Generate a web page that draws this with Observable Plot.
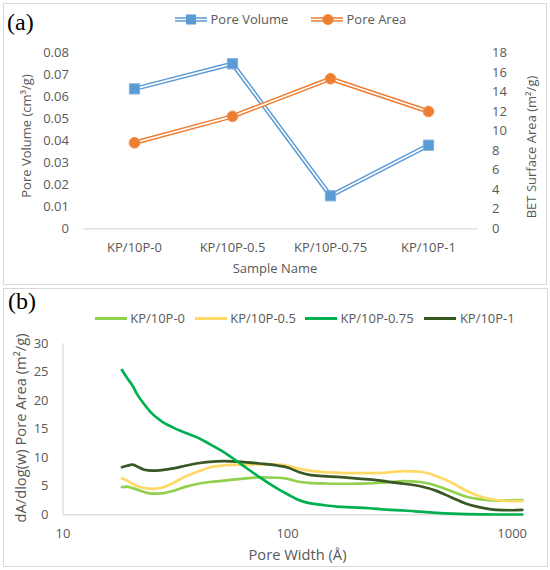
<!DOCTYPE html>
<html>
<head>
<meta charset="utf-8">
<script src="https://cdn.jsdelivr.net/npm/d3@7"></script>
<script src="https://cdn.jsdelivr.net/npm/@observablehq/plot@0.6"></script>
<style>
  body { margin: 0; background: #fff; font-family: "Open Sans", sans-serif; color: #595959; }
  #wrap { position: relative; width: 550px; height: 570px; overflow: hidden; background: #fff; }
  .abs { position: absolute; white-space: nowrap; }
  .panel { position: absolute; border: 1px solid #d9d9d9; box-sizing: border-box; background: transparent; pointer-events: none; }
  .tag { font-family: "Liberation Serif", "DejaVu Serif", serif; font-size: 24px; line-height: 24px; color: #000; }
  .title { font-size: 13px; line-height: 13px; color: #595959; transform: translate(-50%, -50%); }
  .vtitle { font-size: 13px; line-height: 13px; color: #595959; transform: translate(-50%, -50%) rotate(-90deg); }
  .big { font-size: 14.7px; line-height: 15px; }
  .item { position: absolute; display: flex; align-items: center; font-size: 13px; line-height: 13px; color: #595959; transform: translateY(-50%); }
  .item svg { display: block; margin-right: 3.5px; }
</style>
</head>
<body>
<div id="wrap">
  <div id="plotA" class="abs" style="left:0;top:0"></div>
  <div id="plotB" class="abs" style="left:0;top:285px"></div>

  <div class="abs tag" style="left:7px;top:9.6px">(a)</div>
  <div class="abs tag" style="left:8px;top:289px">(b)</div>

  <div class="abs title" style="left:275px;top:268px">Sample Name</div>
  <div class="abs vtitle" style="left:26px;top:136px">Pore Volume (cm³/g)</div>
  <div class="abs vtitle" style="left:530.5px;top:146.5px">BET Surface Area (m²/g)</div>

  <div class="abs title big" style="left:297.5px;top:554px">Pore Width (Å)</div>
  <div class="abs vtitle big" style="left:19.5px;top:427.5px">dA/dlog(w) Pore Area (m²/g)</div>

  <div class="panel" style="left:3px;top:3px;width:544px;height:282px"></div>
  <div class="panel" style="left:3px;top:288px;width:545px;height:279px"></div>
</div>
<script>
// ---------- Panel (a) data ----------
const samples = ["KP/10P-0", "KP/10P-0.5", "KP/10P-0.75", "KP/10P-1"];
const poreVolume = [0.0636, 0.075, 0.015, 0.038];   // cm³/g (left axis)
const poreArea = [8.8, 11.5, 15.35, 12.0];           // m²/g (right axis)
const volumeTicks = [0, 0.01, 0.02, 0.03, 0.04, 0.05, 0.06, 0.07, 0.08];
const areaTicks = [0, 2, 4, 6, 8, 10, 12, 14, 16, 18];

// ---------- Panel (b) data ----------
const poreWidth = [18.3, 19.3, 20.3, 21.5, 23, 25, 27.5, 31, 35, 40, 45, 52, 62, 75, 90, 100, 112, 125, 145, 165, 195, 230, 275, 330, 390, 460, 540, 620, 720, 850, 1000, 1110];
const kp0   = [4.85, 4.95, 4.7, 4.4, 4.0, 3.7, 3.75, 4.2, 4.9, 5.45, 5.75, 6.0, 6.3, 6.55, 6.5, 6.3, 5.8, 5.6, 5.5, 5.45, 5.45, 5.5, 5.7, 5.9, 5.75, 5.1, 4.1, 3.2, 2.7, 2.5, 2.55, 2.6];
const kp05  = [6.4, 6.0, 5.5, 5.0, 4.7, 4.55, 4.75, 5.6, 6.7, 7.6, 8.3, 8.65, 8.8, 8.85, 8.8, 8.6, 8.1, 7.75, 7.5, 7.4, 7.3, 7.3, 7.4, 7.65, 7.55, 6.8, 5.6, 4.3, 3.2, 2.6, 2.4, 2.4];
const kp075 = [25.4, 24.0, 22.8, 21.0, 19.4, 17.7, 16.4, 15.3, 14.4, 13.5, 12.4, 11.0, 8.9, 6.6, 4.6, 3.6, 2.6, 2.05, 1.7, 1.45, 1.3, 1.15, 0.9, 0.75, 0.55, 0.35, 0.2, 0.12, 0.08, 0.05, 0.05, 0.05];
const kp1   = [8.35, 8.6, 8.8, 8.45, 7.9, 7.75, 7.85, 8.15, 8.6, 9.05, 9.3, 9.4, 9.3, 9.0, 8.65, 8.3, 7.5, 7.0, 6.8, 6.65, 6.45, 6.2, 5.85, 5.45, 5.0, 4.2, 3.0, 2.0, 1.3, 0.85, 0.8, 0.85];
const seriesNames = ["KP/10P-0", "KP/10P-0.5", "KP/10P-0.75", "KP/10P-1"];
const seriesColors = ["#92D050", "#FFD966", "#00B050", "#385723"];
const widthTicks = [10, 100, 1000];
const areaDistTicks = [0, 5, 10, 15, 20, 25, 30];

const blue = "#5B9BD5", orange = "#ED7D31", textColor = "#595959", axisGray = "#d9d9d9";

// ---------- Panel (a) ----------
const k = 0.08 / 18; // secondary axis 0–18 mapped onto primary 0–0.08
const rowsA = samples.map((s, i) => ({sample: s, volume: poreVolume[i], area: poreArea[i], areaOnY: poreArea[i] * k}));

const plotA = Plot.plot({
  width: 550, height: 285,
  marginTop: 52.3, marginBottom: 56.7, marginLeft: 83.4, marginRight: 72.4,
  style: {fontFamily: "Open Sans", fontSize: "13px", color: textColor, background: "transparent", overflow: "visible"},
  x: {type: "point", domain: samples, padding: 0.5},
  y: {domain: [0, 0.08]},
  marks: [
    Plot.ruleY([0], {stroke: axisGray, strokeWidth: 1.2}),
    Plot.axisX({tickSize: 0, tickPadding: 14, label: null}),
    Plot.axisY({ticks: volumeTicks, tickSize: 0, tickPadding: 15, label: null, tickFormat: d => d === 0 ? "0" : d.toFixed(2)}),
    Plot.axisY({anchor: "right", ticks: areaTicks.map(a => a * k), tickSize: 0, tickPadding: 14, label: null, textAnchor: "start", tickFormat: d => String(Math.round(d / k))}),
    Plot.line(rowsA, {x: "sample", y: "volume", stroke: blue, strokeWidth: 4.6}),
    Plot.line(rowsA, {x: "sample", y: "volume", stroke: "#fff", strokeWidth: 1.6}),
    Plot.dot(rowsA, {x: "sample", y: "volume", symbol: "square", r: 5.8, fill: blue, stroke: "#7fb2e0", strokeWidth: 1}),
    Plot.line(rowsA, {x: "sample", y: "areaOnY", stroke: orange, strokeWidth: 4.6}),
    Plot.line(rowsA, {x: "sample", y: "areaOnY", stroke: "#fff", strokeWidth: 1.6}),
    Plot.dot(rowsA, {x: "sample", y: "areaOnY", r: 5.4, fill: orange, stroke: "#f29a5e", strokeWidth: 1})
  ]
});
document.getElementById("plotA").append(plotA);

// ---------- Panel (b) ----------
const seriesValues = [kp0, kp05, kp075, kp1];
const drawOrder = [0, 1, 3, 2];
const rowsB = drawOrder.flatMap(si => poreWidth.map((w, i) => ({sample: seriesNames[si], w, v: seriesValues[si][i]})));

const plotB = Plot.plot({
  width: 550, height: 285,
  marginTop: 58.3, marginBottom: 55.7, marginLeft: 62.5, marginRight: 28,
  style: {fontFamily: "Open Sans", fontSize: "13px", color: textColor, background: "transparent", overflow: "visible"},
  x: {type: "log", domain: [10, 1112]},
  y: {domain: [0, 30]},
  color: {domain: seriesNames, range: seriesColors},
  marks: [
    Plot.ruleY([0], {stroke: axisGray, strokeWidth: 1.2}),
    Plot.ruleX([10], {stroke: axisGray, strokeWidth: 1.2}),
    Plot.axisX({ticks: widthTicks, tickFormat: d => String(d), tickSize: 0, tickPadding: 14, label: null}),
    Plot.axisY({ticks: areaDistTicks, tickSize: 0, tickPadding: 14.5, label: null}),
    Plot.line(rowsB, {x: "w", y: "v", z: "sample", stroke: "sample", strokeWidth: 2.7, curve: "monotone-x"})
  ]
});
document.getElementById("plotB").append(plotB);

// ---------- Legends ----------
function swatchA(color, symbol) {
  const svg = d3.create("svg").attr("width", 32).attr("height", 12);
  svg.append("line").attr("x1", 0).attr("x2", 32).attr("y1", 6).attr("y2", 6).attr("stroke", color).attr("stroke-width", 4.6);
  svg.append("line").attr("x1", 0).attr("x2", 32).attr("y1", 6).attr("y2", 6).attr("stroke", "#fff").attr("stroke-width", 1.6);
  if (symbol === "square") svg.append("rect").attr("x", 11).attr("y", 1).attr("width", 10).attr("height", 10).attr("fill", color);
  else svg.append("circle").attr("cx", 17).attr("cy", 6).attr("r", 5.4).attr("fill", color);
  return svg.node();
}
function swatchB(color) {
  const svg = d3.create("svg").attr("width", 32).attr("height", 6);
  svg.append("line").attr("x1", 0).attr("x2", 32).attr("y1", 3).attr("y2", 3).attr("stroke", color).attr("stroke-width", 3);
  return svg.node();
}
const wrap = document.getElementById("wrap");
function addItem(left, top, sw, label) {
  const d = document.createElement("div");
  d.className = "item";
  d.style.left = left + "px";
  d.style.top = top + "px";
  d.append(sw);
  const s = document.createElement("span");
  s.textContent = label;
  d.append(s);
  wrap.append(d);
}
addItem(175, 19.3, swatchA(blue, "square"), "Pore Volume");
addItem(311, 19.3, swatchA(orange, "circle"), "Pore Area");
const legendBX = [94.7, 194.7, 305, 424.4];
seriesNames.forEach((n, i) => addItem(legendBX[i], 318.3, swatchB(seriesColors[i]), n));
</script>
</body>
</html>
